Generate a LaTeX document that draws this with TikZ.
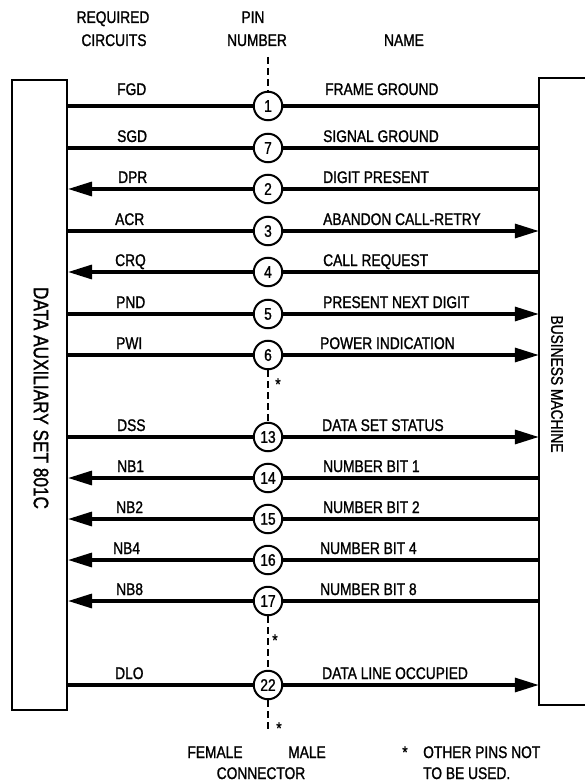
\documentclass[tikz,border=0pt]{standalone}
\usepackage{fontspec}
\setmainfont{Liberation Sans}[FakeStretch=0.82, FakeBold=1.2]
\usetikzlibrary{arrows.meta}
\begin{document}
\begin{tikzpicture}[x=1pt,y=-1pt,
  lbl/.style={font=\fontsize{16.8}{20}\selectfont, inner sep=0pt},
  biglbl/.style={font=\fontsize{21}{24}\selectfont, inner sep=0pt},
  pin/.style={circle, draw, line width=2pt, minimum size=28.5pt, inner sep=0pt, fill=white, font=\fontsize{16.8}{20}\selectfont},
  sig/.style={line width=3.2pt},
  tip/.style={-{Triangle[length=24pt,width=14pt]}},
  conn/.style={dash pattern=on 7pt off 4pt, line width=2pt},
  boxline/.style={line width=2pt}]
\useasboundingbox (0,0) rectangle (585,783);
\clip (0,0) rectangle (585,783);

% headers
\node[lbl, anchor=base] (h1) at (113,23) {REQUIRED};
\node[lbl, anchor=base] (h2) at (114,46) {CIRCUITS};
\node[lbl, anchor=base] (h3) at (253,23) {PIN};
\node[lbl, anchor=base] (h4) at (257,46) {NUMBER};
\node[lbl, anchor=base] (h5) at (404,46) {NAME};

% boxes
\node[draw, boxline, minimum width=55pt, minimum height=630pt, inner sep=0pt] (L) at (39.5,395) {};
\node[biglbl, rotate=-90] (Lt) at (41,398) {DATA AUXILIARY SET 801C};
\node[minimum width=46pt, minimum height=627pt, inner sep=0pt] (R) at (562,391.5) {};
\draw[boxline] (R.north east) -- (R.north west) -- (R.south west) -- (R.south east);
\node[lbl, rotate=-90] (Rt) at (557,384) {BUSINESS MACHINE};

% pins
\node[pin] (p1) at (268,106) {1};
\node[pin] (p7) at (268,148) {7};
\node[pin] (p2) at (268,189) {2};
\node[pin] (p3) at (268,231) {3};
\node[pin] (p4) at (268,272) {4};
\node[pin] (p5) at (268,314) {5};
\node[pin] (p6) at (268,355) {6};
\node[pin] (p13) at (268,437) {13};
\node[pin] (p14) at (268,478) {14};
\node[pin] (p15) at (268,519) {15};
\node[pin] (p16) at (268,560) {16};
\node[pin] (p17) at (268,601) {17};
\node[pin] (p22) at (268,685) {22};

% connector centre line
\coordinate (ctop) at (268,57);
\coordinate (cbot) at (268,733);
\draw[conn] (ctop) -- (p1.north);
\draw[conn] (p6.south) -- (p13.north);
\draw[conn] (p17.south) -- (p22.north);
\draw[conn] (p22.south) -- (cbot);
\node[lbl, anchor=base] (st1) at (278,390) {*};
\node[lbl, anchor=base] (st2) at (275,646) {*};
\node[lbl, anchor=base] (st3) at (279,734) {*};

% signal lines
\draw[sig] (p1.west) -- (L.east |- p1.west);
\draw[sig] (p1.east) -- (R.west |- p1.east);
\draw[sig] (p7.west) -- (L.east |- p7.west);
\draw[sig] (p7.east) -- (R.west |- p7.east);
\draw[sig, tip] (p2.west) -- (L.east |- p2.west);
\draw[sig] (p2.east) -- (R.west |- p2.east);
\draw[sig] (p3.west) -- (L.east |- p3.west);
\draw[sig, tip] (p3.east) -- (R.west |- p3.east);
\draw[sig, tip] (p4.west) -- (L.east |- p4.west);
\draw[sig] (p4.east) -- (R.west |- p4.east);
\draw[sig] (p5.west) -- (L.east |- p5.west);
\draw[sig, tip] (p5.east) -- (R.west |- p5.east);
\draw[sig] (p6.west) -- (L.east |- p6.west);
\draw[sig, tip] (p6.east) -- (R.west |- p6.east);
\draw[sig] (p13.west) -- (L.east |- p13.west);
\draw[sig, tip] (p13.east) -- (R.west |- p13.east);
\draw[sig, tip] (p14.west) -- (L.east |- p14.west);
\draw[sig] (p14.east) -- (R.west |- p14.east);
\draw[sig, tip] (p15.west) -- (L.east |- p15.west);
\draw[sig] (p15.east) -- (R.west |- p15.east);
\draw[sig, tip] (p16.west) -- (L.east |- p16.west);
\draw[sig] (p16.east) -- (R.west |- p16.east);
\draw[sig, tip] (p17.west) -- (L.east |- p17.west);
\draw[sig] (p17.east) -- (R.west |- p17.east);
\draw[sig] (p22.west) -- (L.east |- p22.west);
\draw[sig, tip] (p22.east) -- (R.west |- p22.east);

% circuit labels
\node[lbl, anchor=base west] (c1) at (117,95) {FGD};
\node[lbl, anchor=base west] (c7) at (117,142) {SGD};
\node[lbl, anchor=base west] (c2) at (118,183) {DPR};
\node[lbl, anchor=base west] (c3) at (115,225) {ACR};
\node[lbl, anchor=base west] (c4) at (115,266) {CRQ};
\node[lbl, anchor=base west] (c5) at (116,308) {PND};
\node[lbl, anchor=base west] (c6) at (116,349) {PWI};
\node[lbl, anchor=base west] (c13) at (117,431) {DSS};
\node[lbl, anchor=base west] (c14) at (117,472) {NB1};
\node[lbl, anchor=base west] (c15) at (116,513) {NB2};
\node[lbl, anchor=base west] (c16) at (113,554) {NB4};
\node[lbl, anchor=base west] (c17) at (116,595) {NB8};
\node[lbl, anchor=base west] (c22) at (115,679) {DLO};

% names
\node[lbl, anchor=base west] (n1) at (325,95) {FRAME GROUND};
\node[lbl, anchor=base west] (n7) at (323,142) {SIGNAL GROUND};
\node[lbl, anchor=base west] (n2) at (323,183) {DIGIT PRESENT};
\node[lbl, anchor=base west] (n3) at (323,225) {ABANDON CALL-RETRY};
\node[lbl, anchor=base west] (n4) at (323,266) {CALL REQUEST};
\node[lbl, anchor=base west] (n5) at (323,308) {PRESENT NEXT DIGIT};
\node[lbl, anchor=base west] (n6) at (320,349) {POWER INDICATION};
\node[lbl, anchor=base west] (n13) at (322,431) {DATA SET STATUS};
\node[lbl, anchor=base west] (n14) at (323,472) {NUMBER BIT 1};
\node[lbl, anchor=base west] (n15) at (323,513) {NUMBER BIT 2};
\node[lbl, anchor=base west] (n16) at (320,554) {NUMBER BIT 4};
\node[lbl, anchor=base west] (n17) at (320,595) {NUMBER BIT 8};
\node[lbl, anchor=base west] (n22) at (322,679) {DATA LINE OCCUPIED};

% footer
\node[lbl, anchor=base] (f1) at (215,758) {FEMALE};
\node[lbl, anchor=base] (f2) at (307,758) {MALE};
\node[lbl, anchor=base] (f3) at (261,779) {CONNECTOR};
\node[lbl, anchor=base] (f4) at (405,758) {*};
\node[lbl, anchor=base west] (f5) at (423,758) {OTHER PINS NOT};
\node[lbl, anchor=base west] (f6) at (423,779) {TO BE USED.};
\end{tikzpicture}
\end{document}
